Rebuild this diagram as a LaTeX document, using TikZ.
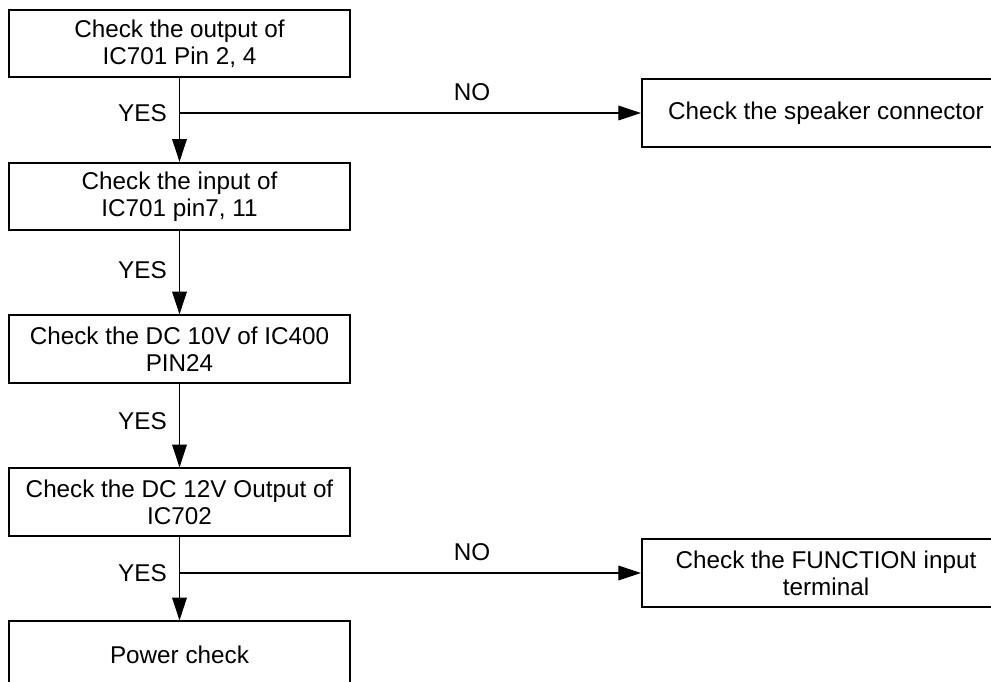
\documentclass[tikz,border=0pt]{standalone}
\usepackage{fontspec}
\setmainfont{Liberation Sans}
\usetikzlibrary{arrows.meta}

\begin{document}
\begin{tikzpicture}
            [x=0.75pt, y=-0.75pt,
            checkbox/.style={draw=black, line width=1.5pt, align=center, minimum width=255.75pt, minimum height=50.5pt, inner sep=0pt, font=\fontsize{18.2}{20.5}\selectfont},
            sidebox/.style={checkbox, minimum width=276pt},
            answer/.style={font=\fontsize{18.2}{20.5}\selectfont, inner sep=0pt},
            arr/.style={line width=0.8pt, -{Triangle[length=17pt, width=11pt]}}]

            \useasboundingbox (0,0) rectangle (991,681);
            \clip (0,0) rectangle (991,681);

            \node[checkbox] (out) at (179.5,43.5) {Check the output of\\IC701 Pin 2, 4};
            \node[checkbox] (in) at (179.5,196.5) {Check the input of\\IC701 pin7, 11};
            \node[checkbox] (dc10) at (179.5,349) {Check the DC 10V of IC400\\PIN24};
            \node[checkbox] (dc12) at (179.5,502) {Check the DC 12V Output of\\IC702};
            \node[checkbox] (power) at (179.5,655) {Power check};
            \node[sidebox] (spk) at (826,113) {Check the speaker connector};
            \node[sidebox] (func) at (826,573) {Check the FUNCTION input\\terminal};

            \coordinate (s1) at (out.south |- spk.west);
            \coordinate (s2) at (dc12.south |- func.west);

            \node[answer, anchor=east] (yes1) at (167,113) {YES};
            \node[answer, anchor=east] (yes2) at (167,270) {YES};
            \node[answer, anchor=east] (yes3) at (167,421) {YES};
            \node[answer, anchor=east] (yes4) at (167,573) {YES};
            \node[answer] (no1) at (472,92) {NO};
            \node[answer] (no2) at (472,552) {NO};

            \draw[arr] (out) -- (in);
            \draw[arr] (in) -- (dc10);
            \draw[arr] (dc10) -- (dc12);
            \draw[arr] (dc12) -- (power);
            \draw[arr] (s1) -- (spk);
            \draw[arr] (s2) -- (func);

\end{tikzpicture}
\end{document}
